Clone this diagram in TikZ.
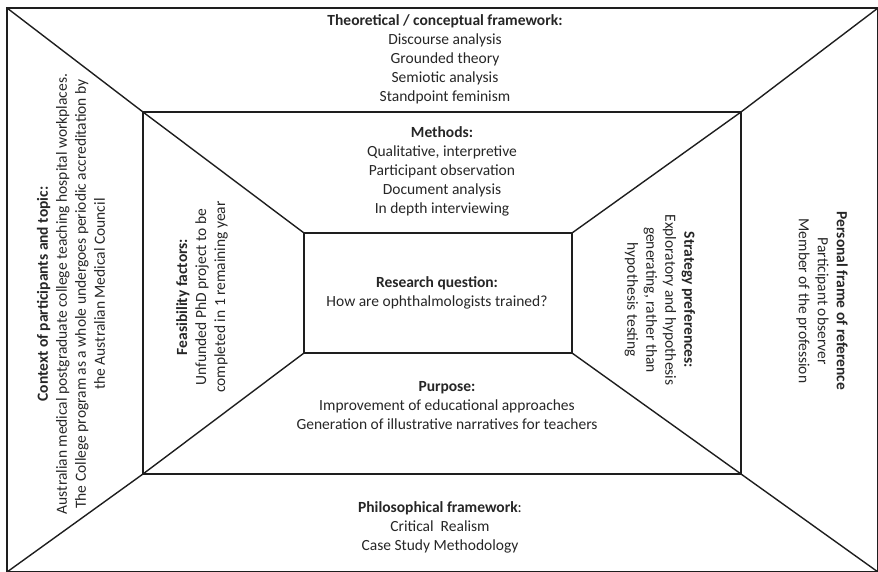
\documentclass[tikz,border=0pt]{standalone}
\usepackage{fontspec}
\setmainfont{Carlito}
\definecolor{ink}{HTML}{1E1E1E}
\definecolor{txt}{HTML}{262626}
\begin{document}
\begin{tikzpicture}[x=1pt,y=-1pt,
  frame/.style={draw=ink,line width=1.4pt,line join=miter},
  label/.style={text=txt,align=center,inner sep=0pt,
    font=\fontsize{15.5}{19}\selectfont}]
\useasboundingbox (0,0) rectangle (878,572);
% corners of the three nested rectangles
\coordinate (o1) at (7,8);   \coordinate (o2) at (878,8);
\coordinate (o3) at (878,572); \coordinate (o4) at (7,572);
\coordinate (m1) at (143,112); \coordinate (m2) at (741,112);
\coordinate (m3) at (741,474); \coordinate (m4) at (143,474);
\coordinate (i1) at (304,233); \coordinate (i2) at (572,233);
\coordinate (i3) at (572,353); \coordinate (i4) at (304,353);
% rectangles
\draw[frame] (o1) -- (o2) -- (o3) -- (o4) -- cycle;
\draw[frame] (m1) -- (m2) -- (m3) -- (m4) -- cycle;
\draw[frame] (i1) -- (i2) -- (i3) -- (i4) -- cycle;
% diagonals through the corners
\draw[frame] (o1) -- (m1) -- (i1);
\draw[frame] (o2) -- (m2) -- (i2);
\draw[frame] (o3) -- (m3) -- (i3);
\draw[frame] (o4) -- (m4) -- (i4);
% texts
\node[label] (theory) at (445,59) {\textbf{Theoretical / conceptual framework:}\\Discourse analysis\\Grounded theory\\Semiotic analysis\\Standpoint feminism};
\node[label] (methods) at (442,171) {\textbf{Methods:}\\Qualitative, interpretive\\Participant observation\\Document analysis\\In depth interviewing};
\node[label] (question) at (437,293) {\textbf{Research question:}\\How are ophthalmologists trained?};
\node[label] (purpose) at (447,406) {\textbf{Purpose:}\\Improvement of educational approaches\\Generation of illustrative narratives for teachers};
\node[label] (philo) at (440,527) {\textbf{Philosophical framework}:\\Critical~ Realism\\Case Study Methodology};
\node[label,rotate=90] (context) at (71,294) {\textbf{Context of participants and topic:}\\Australian medical postgraduate college teaching hospital workplaces.\\The College program as a whole undergoes periodic accreditation by\\the Australian Medical Council};
\node[label,rotate=90] (feas) at (202,297) {\textbf{Feasibility factors:}\\Unfunded PhD project to be\\completed in 1 remaining year};
\node[label,rotate=-90] (strategy) at (660,300) {\textbf{Strategy preferences:}\\Exploratory and hypothesis\\generating, rather than\\hypothesis testing};
\node[label,rotate=-90] (personal) at (822,301) {\textbf{Personal frame of reference}\\Participant observer\\Member of the profession};
\end{tikzpicture}
\end{document}
